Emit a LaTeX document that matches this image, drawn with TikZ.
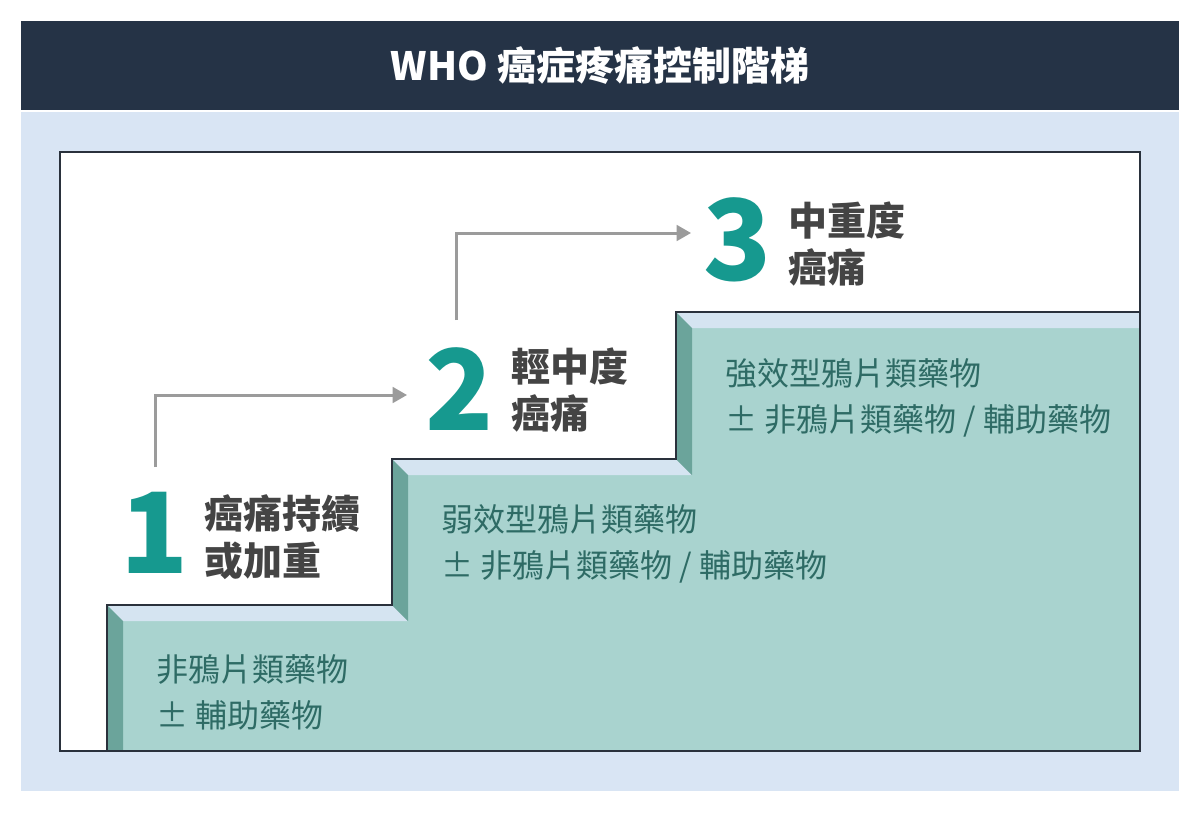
\documentclass[tikz,border=0pt]{standalone}
\usepackage{fontspec}
\setmainfont{Noto Sans CJK TC}
\usepackage{tikz}
\usetikzlibrary{arrows}
\definecolor{headbg}{HTML}{253346}
\definecolor{panelbg}{HTML}{D9E5F4}
\definecolor{boxline}{HTML}{2A313C}
\definecolor{stepface}{HTML}{A9D3CF}
\definecolor{steptop}{HTML}{D5E4F1}
\definecolor{stepside}{HTML}{6BA49B}
\definecolor{drugteal}{HTML}{2E6B65}
\definecolor{numteal}{HTML}{16998F}
\definecolor{labgray}{HTML}{444444}
\definecolor{arrowgray}{HTML}{9B9B9B}
\tikzstyle{headtext}=[text=white,inner sep=0pt,font=\fontsize{39}{44}\selectfont\bfseries]
\tikzstyle{stepnum}=[text=numteal,inner sep=0pt,font=\fontsize{112}{112}\selectfont\bfseries]
\tikzstyle{stagetext}=[text=labgray,align=left,anchor=west,inner sep=0pt,font=\fontsize{39}{47}\selectfont\bfseries]
\tikzstyle{drugtext}=[text=drugteal,align=left,anchor=west,inner sep=0pt,font=\fontsize{32}{46}\selectfont]
\tikzstyle{arrow}=[->,>=triangle 60,draw=arrowgray,line width=3pt]
\tikzstyle{topbevel}=[fill=steptop]
\tikzstyle{sidebevel}=[fill=stepside]
\tikzset{every picture/.style={
    line width=2pt
  }
}

\begin{document}
\begin{tikzpicture}[x=1pt,y=-1pt]
      \useasboundingbox[fill=white] (0,0) rectangle (1200,812);
      \fill[headbg] (21,21) rectangle (1179,110);
      \fill[panelbg] (21,112) rectangle (1179,791);
      \fill[white] (60,152) rectangle (1140,751);
      \node[headtext] at (600,66) (title) {WHO 癌症疼痛控制階梯};
      \fill[stepface] (107,751) -- (107,605) -- (392,605) -- (392,459) -- (676,459) -- (676,312) -- (1140,312) -- (1140,751) -- cycle;
      \fill[topbevel] (107,605) -- (392,605) -- (408,621) -- (123,621) -- cycle;
      \fill[topbevel] (392,459) -- (676,459) -- (692,475) -- (408,475) -- cycle;
      \fill[topbevel] (676,312) -- (1140,312) -- (1140,328) -- (692,328) -- cycle;
      \fill[sidebevel] (107,605) -- (123,621) -- (123,751) -- (107,751) -- cycle;
      \fill[sidebevel] (392,459) -- (408,475) -- (408,621) -- (392,605) -- cycle;
      \fill[sidebevel] (676,312) -- (692,328) -- (692,475) -- (676,459) -- cycle;
      \draw[boxline] (107,751) -- (107,605) -- (392,605) -- (392,459) -- (676,459) -- (676,312) -- (1140,312);
      \draw[boxline] (60,152) rectangle (1140,751);
      \node[stepnum] at (155,533) (d1) {1};
      \node[stepnum] at (460,389) (d2) {2};
      \node[stepnum] at (738,240) (d3) {3};
      \node[stagetext] at (203,537) (s1) {癌痛持續\\或加重};
      \node[stagetext] at (510,390) (s2) {輕中度\\癌痛};
      \node[stagetext] at (787,244) (s3) {中重度\\癌痛};
      \node[drugtext] at (155,692) (m1) {非鴉片類藥物\\± 輔助藥物};
      \node[drugtext] at (440,544) (m2) {弱效型鴉片類藥物\\± 非鴉片類藥物 / 輔助藥物};
      \node[drugtext] at (724,398) (m3) {強效型鴉片類藥物\\± 非鴉片類藥物 / 輔助藥物};
      \coordinate (a1) at (155,467);
      \coordinate (a2) at (456,320);
      \draw[arrow,shorten >=18pt] (a1) |- ([yshift=-6pt]d2.west);
      \draw[arrow,shorten >=12pt] (a2) |- ([yshift=7pt]d3.west);
    \end{tikzpicture}
\end{document}
